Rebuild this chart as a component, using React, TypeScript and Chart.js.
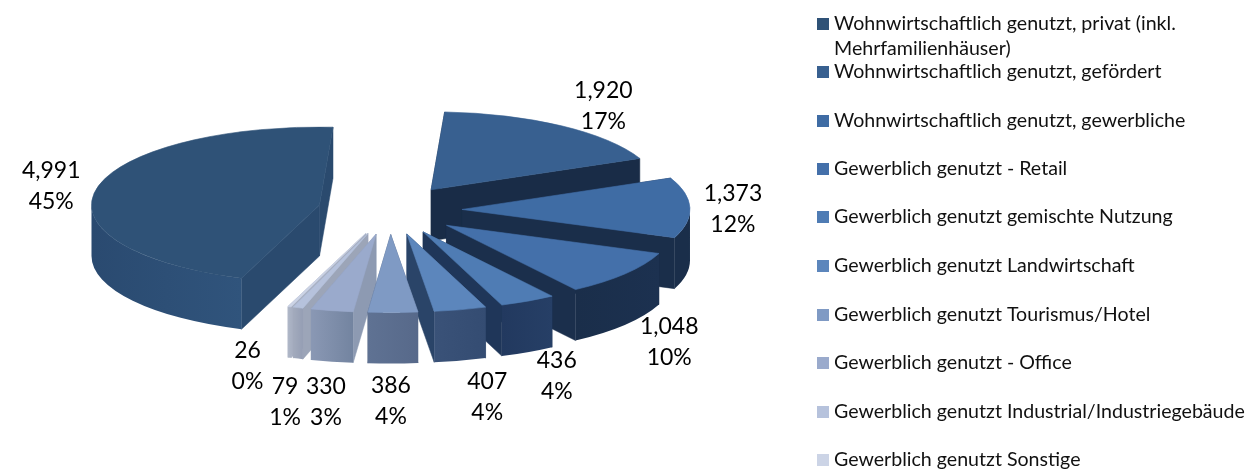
import React, { useEffect, useRef } from "react";
import { Chart, registerables } from "chart.js";

Chart.register(...registerables);

const categories = [
  "Wohnwirtschaftlich genutzt, privat (inkl. Mehrfamilienhäuser)",
  "Wohnwirtschaftlich genutzt, gefördert",
  "Wohnwirtschaftlich genutzt, gewerbliche",
  "Gewerblich genutzt - Retail",
  "Gewerblich genutzt gemischte Nutzung",
  "Gewerblich genutzt Landwirtschaft",
  "Gewerblich genutzt Tourismus/Hotel",
  "Gewerblich genutzt - Office",
  "Gewerblich genutzt Industrial/Industriegebäude",
  "Gewerblich genutzt Sonstige",
];
const values = [4991, 1920, 1373, 1048, 436, 407, 386, 330, 79, 26];

const topColors = ["#2f5277", "#386090", "#3f6ca4", "#4470aa", "#4f7cb4", "#5c86bc", "#7f9ac4", "#9aaacc", "#b6c2dc", "#ccd4e6"];
const wallFrom = ["#2a4a70", "#1a2e4a", "#1a2e4a", "#1a2e4a", "#22395f", "#3a5278", "#5f7293", "#8a98b4", "#a3abbd", "#b0b8c8"];
const wallTo = ["#30547c", "#1a2e4a", "#1a2e4a", "#1c3150", "#263f66", "#344c72", "#57698a", "#7384a0", "#959eb4", "#a8b0c2"];
const cutColors = ["#2a4a6e", "#192c47", "#1a2e4a", "#1b2f4c", "#1f3659", "#2a4468", "#4a5c7c", "#8d9ab2", "#9ca5b8", "#a8b0c2"];

const SQUASH = 0.342;
const DEPTH = 51;
const EXPLODE = 72;
const RADIUS = 228;
const LABEL_FONT = '23px Lato, "Open Sans", sans-serif';
const LEGEND_FONT = '19.6px Lato, "Open Sans", sans-serif';
const labelNudges: [number, number][] = [[-45, -3], [42, -20], [43, 1], [44, 68], [29, 75], [27, 87], [-2, 88], [-6, 91], [-13, 94], [-42, 59]];
const legendRows = [24, 72, 121, 169, 217, 266, 315, 363, 412, 460];

const pie3d = {
  id: "pie3d",
  beforeDatasetsDraw(chart: any) {
    const { ctx } = chart;
    const arcs: any[] = chart.getDatasetMeta(0).data;
    const total = values.reduce((a, b) => a + b, 0);
    const geo = arcs.map((arc, i) => {
      const { x, y, startAngle, endAngle } = arc.getProps(["x", "y", "startAngle", "endAngle"]);
      const mid = (startAngle + endAngle) / 2;
      return { i, a0: startAngle, a1: endAngle, mid, ax: x + EXPLODE * Math.cos(mid), ay: y + SQUASH * EXPLODE * Math.sin(mid), cx: x, cy: y };
    });
    const order = [...geo].sort((p, q) => p.ay - q.ay);
    for (const g of order) {
      const ry = SQUASH * RADIUS;
      const px = (a: number) => g.ax + RADIUS * Math.cos(a);
      const py = (a: number) => g.ay + ry * Math.sin(a);
      type Face = { y: number; paint: () => void };
      const faces: Face[] = [];
      for (const a of [g.a0, g.a1]) {
        faces.push({
          y: (g.ay + py(a)) / 2,
          paint: () => {
            ctx.beginPath();
            ctx.moveTo(g.ax, g.ay);
            ctx.lineTo(px(a), py(a));
            ctx.lineTo(px(a), py(a) + DEPTH);
            ctx.lineTo(g.ax, g.ay + DEPTH);
            ctx.closePath();
            ctx.fillStyle = cutColors[g.i];
            ctx.fill();
            ctx.strokeStyle = cutColors[g.i];
            ctx.lineWidth = 0.5;
            ctx.stroke();
          },
        });
      }
      for (let n = -1; n <= 2; n++) {
        const lo = Math.max(g.a0, n * 2 * Math.PI);
        const hi = Math.min(g.a1, n * 2 * Math.PI + Math.PI);
        if (hi <= lo) continue;
        faces.push({
          y: py((lo + hi) / 2) + 1000,
          paint: () => {
            const grad = ctx.createLinearGradient(Math.min(px(lo), px(hi)), 0, Math.max(px(lo), px(hi)), 0);
            grad.addColorStop(0, wallFrom[g.i]);
            grad.addColorStop(1, wallTo[g.i]);
            ctx.beginPath();
            ctx.ellipse(g.ax, g.ay, RADIUS, ry, 0, lo, hi);
            ctx.ellipse(g.ax, g.ay + DEPTH, RADIUS, ry, 0, hi, lo, true);
            ctx.closePath();
            ctx.fillStyle = grad;
            ctx.fill();
          },
        });
      }
      faces.sort((p, q) => p.y - q.y).forEach((f) => f.paint());
      ctx.beginPath();
      ctx.moveTo(g.ax, g.ay);
      ctx.ellipse(g.ax, g.ay, RADIUS, ry, 0, g.a0, g.a1);
      ctx.closePath();
      ctx.fillStyle = topColors[g.i];
      ctx.fill();
      ctx.strokeStyle = topColors[g.i];
      ctx.lineWidth = 0.6;
      ctx.stroke();
    }
    ctx.save();
    ctx.fillStyle = "#000";
    ctx.textAlign = "center";
    ctx.textBaseline = "middle";
    ctx.font = LABEL_FONT;
    for (const g of geo) {
      const ox = g.cx + (EXPLODE + RADIUS) * Math.cos(g.mid) + labelNudges[g.i][0];
      const oy = g.cy + SQUASH * (EXPLODE + RADIUS) * Math.sin(g.mid) + labelNudges[g.i][1];
      ctx.fillText(values[g.i].toLocaleString("en-US"), ox, oy - 15.5);
      ctx.fillText(Math.round((values[g.i] / total) * 100) + "%", ox, oy + 15.5);
    }
    ctx.textAlign = "left";
    ctx.font = LEGEND_FONT;
    ctx.fillStyle = "#111";
    categories.forEach((c, i) => {
      const y = legendRows[i];
      ctx.save();
      ctx.fillStyle = topColors[i];
      ctx.fillRect(817, y - 6, 12, 12);
      ctx.restore();
      if (i === 0) {
        ctx.fillText("Wohnwirtschaftlich genutzt, privat (inkl.", 834, y);
        ctx.fillText("Mehrfamilienhäuser)", 834, y + 25);
      } else {
        ctx.fillText(c, 834, y);
      }
    });
    ctx.restore();
    return false;
  },
};

export default function App() {
  const ref = useRef<HTMLCanvasElement>(null);
  useEffect(() => {
    document.body.style.margin = "0";
    const chart = new Chart(ref.current!, {
      type: "pie",
      data: { labels: categories, datasets: [{ data: values, backgroundColor: topColors, borderWidth: 0 }] },
      options: {
        responsive: false,
        animation: false,
        rotation: 200,
        radius: RADIUS,
        layout: { padding: { right: 475, bottom: 55 } },
        plugins: { legend: { display: false }, tooltip: { enabled: false } },
      },
      plugins: [pie3d],
    } as any);
    return () => chart.destroy();
  }, []);
  return <canvas ref={ref} width={1255} height={475} style={{ display: "block" }} />;
}
